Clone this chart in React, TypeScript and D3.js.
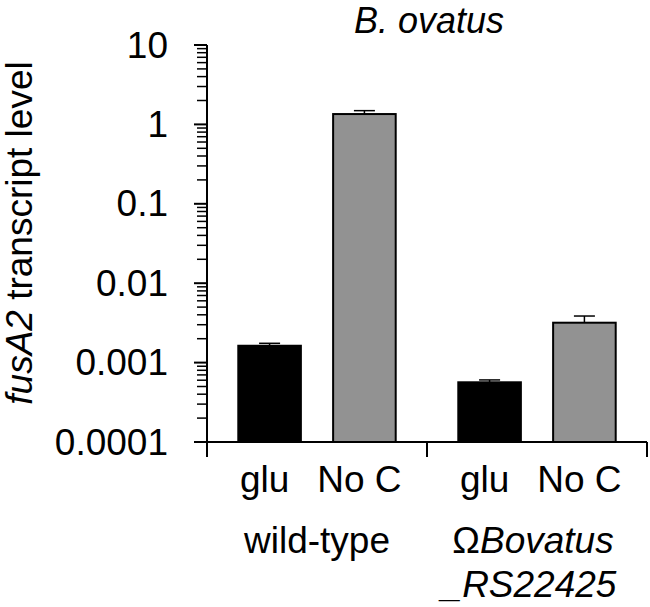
import * as d3 from "d3";

const strains = ["wild-type", "omega"];
const conditions = ["glu", "No C"];
const gluValues = [0.00163, 0.000565];
const gluErrors = [0.00012, 0.00004];
const noCValues = [1.35, 0.00318];
const noCErrors = [0.14, 0.00068];
const yTickValues = [0.0001, 0.001, 0.01, 0.1, 1, 10];
const yTickLabels = ["0.0001", "0.001", "0.01", "0.1", "1", "10"];

const WIDTH = 650;
const HEIGHT = 607;
const FONT = "'Liberation Sans', Arial, sans-serif";
const FS = 37;
const colors: { [k: string]: string } = { glu: "#000000", "No C": "#929292" };

export default function App() {
  const x0 = d3.scaleBand().domain(strains).range([207, 647]);
  const x1 = d3
    .scaleBand()
    .domain(conditions)
    .range([0, x0.bandwidth()])
    .paddingInner(0.34)
    .paddingOuter(0.33);
  const y = d3.scaleLog().domain([0.0001, 10]).range([442, 45]);

  const bars = strains.flatMap((s, i) => [
    { strain: s, cond: "glu", value: gluValues[i], err: gluErrors[i] },
    { strain: s, cond: "No C", value: noCValues[i], err: noCErrors[i] },
  ]);

  const minorTicks = y.ticks().filter((t) => !yTickValues.some((m) => Math.abs(m - t) / m < 1e-6));
  const yBase = y.range()[0];

  return (
    <svg width={WIDTH} height={HEIGHT} style={{ position: "absolute", left: 0, top: 0 }}>
      <rect width={WIDTH} height={HEIGHT} fill="#fff" />
      <text
        x={429}
        y={33}
        textAnchor="middle"
        fontFamily={FONT}
        fontSize={36}
        fontStyle="italic"
      >
        B. ovatus
      </text>

      {/* y axis title */}
      <text
        transform="translate(32,233) rotate(-90)"
        textAnchor="middle"
        fontFamily={FONT}
        fontSize={FS}
      >
        <tspan fontStyle="italic">fusA2</tspan> transcript level
      </text>

      {/* bars */}
      {bars.map((b, i) => {
        const bx = (x0(b.strain) ?? 0) + (x1(b.cond) ?? 0);
        const bw = x1.bandwidth();
        const cx = bx + bw / 2;
        return (
          <g key={i}>
            <line
              x1={cx}
              x2={cx}
              y1={y(b.value)}
              y2={y(b.value + b.err)}
              stroke="#000"
              strokeWidth={1.5}
            />
            <line
              x1={cx - 10.5}
              x2={cx + 10.5}
              y1={y(b.value + b.err)}
              y2={y(b.value + b.err)}
              stroke="#000"
              strokeWidth={1.5}
            />
            <rect
              x={bx}
              y={y(b.value)}
              width={bw}
              height={yBase - y(b.value)}
              fill={colors[b.cond]}
              stroke="#000"
              strokeWidth={2}
            />
          </g>
        );
      })}

      {/* y axis */}
      <line x1={207} x2={207} y1={45} y2={457} stroke="#000" strokeWidth={2} />
      {minorTicks.map((t) => (
        <line key={t} x1={197} x2={207} y1={y(t)} y2={y(t)} stroke="#000" strokeWidth={1.5} />
      ))}
      {yTickValues.map((t, i) => (
        <g key={t}>
          <line x1={194} x2={207} y1={y(t)} y2={y(t)} stroke="#000" strokeWidth={2} />
          <text
            x={168}
            y={y(t)}
            textAnchor="end"
            dominantBaseline="central"
            fontFamily={FONT}
            fontSize={FS}
          >
            {yTickLabels[i]}
          </text>
        </g>
      ))}

      {/* x axis */}
      <line x1={194} x2={647} y1={yBase} y2={yBase} stroke="#000" strokeWidth={2} />
      {strains.map((s) => (
        <line
          key={s}
          x1={(x0(s) ?? 0) + x0.bandwidth()}
          x2={(x0(s) ?? 0) + x0.bandwidth()}
          y1={yBase}
          y2={457}
          stroke="#000"
          strokeWidth={2}
        />
      ))}
      {bars.map((b, i) => (
        <text
          key={i}
          x={(x0(b.strain) ?? 0) + (x1(b.cond) ?? 0) + x1.bandwidth() / 2 - 5}
          y={492}
          textAnchor="middle"
          fontFamily={FONT}
          fontSize={FS}
        >
          {b.cond}
        </text>
      ))}
      <text
        x={(x0("wild-type") ?? 0) + x0.bandwidth() / 2}
        y={553}
        textAnchor="middle"
        fontFamily={FONT}
        fontSize={FS}
      >
        wild-type
      </text>
      <text
        x={(x0("omega") ?? 0) + x0.bandwidth() / 2 - 4}
        y={553}
        textAnchor="middle"
        fontFamily={FONT}
        fontSize={FS}
      >
        Ω<tspan fontStyle="italic">Bovatus</tspan>
      </text>
      <text
        x={(x0("omega") ?? 0) + x0.bandwidth() / 2 - 8}
        y={597}
        textAnchor="middle"
        fontFamily={FONT}
        fontSize={FS}
        fontStyle="italic"
      >
        _RS22425
      </text>
    </svg>
  );
}
